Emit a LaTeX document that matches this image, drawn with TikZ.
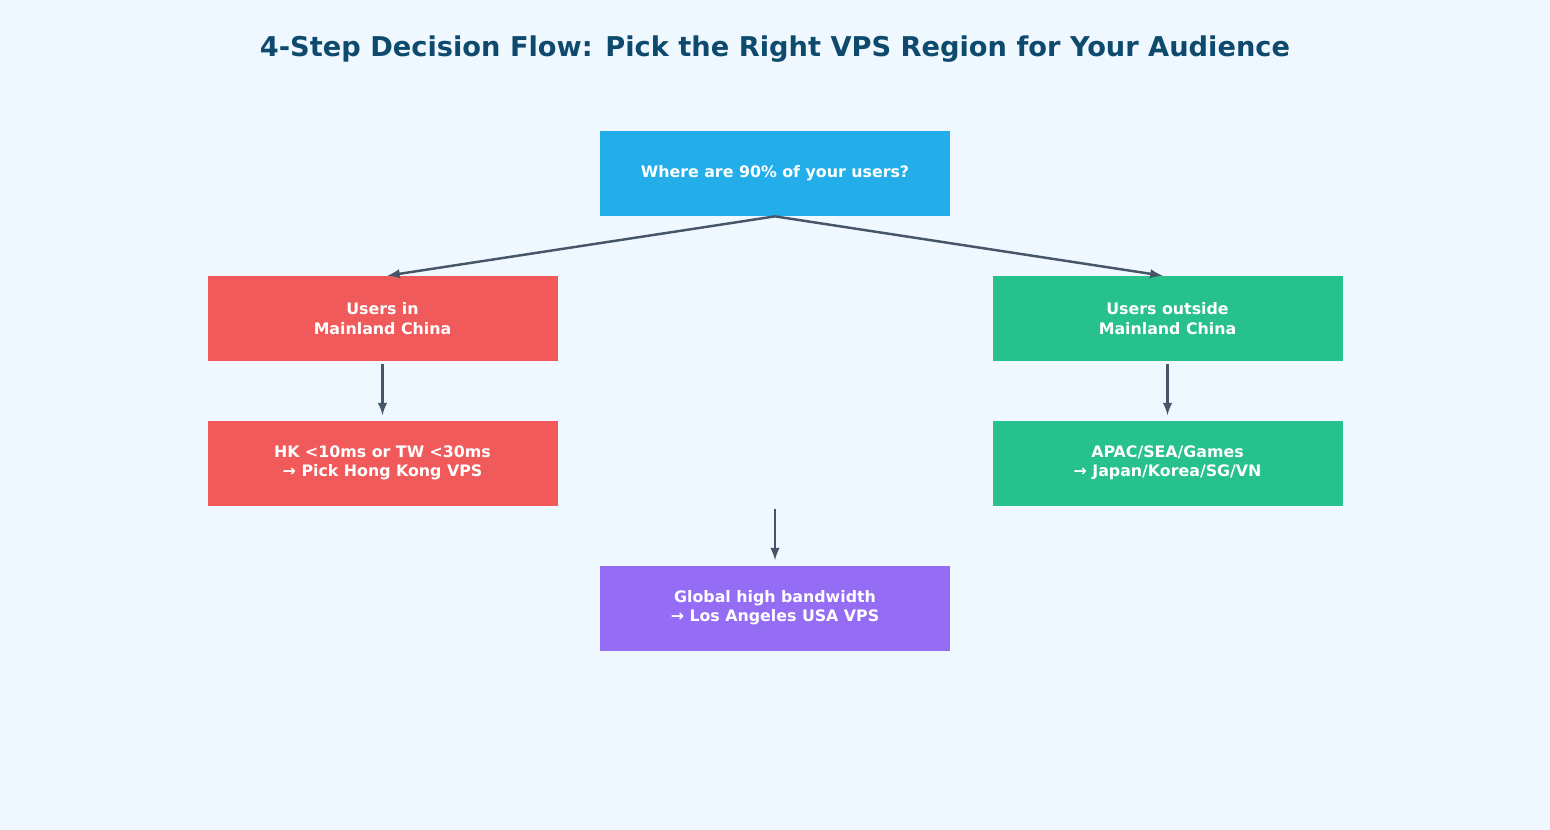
\documentclass[tikz,border=0pt]{standalone}
\usepackage{fontspec}
\setmainfont{DejaVu Sans}
\usetikzlibrary{positioning}
\definecolor{canvas}{HTML}{EFF8FE}
\definecolor{titleblue}{HTML}{0E4A6E}
\definecolor{question}{HTML}{23AEEA}
\definecolor{china}{HTML}{F05A5A}
\definecolor{abroad}{HTML}{27C18D}
\definecolor{global}{HTML}{956CF4}
\definecolor{link}{HTML}{475569}
\tikzset{
  stepbox/.style={minimum width=7cm, minimum height=1.7cm, text=white,
    font=\bfseries\fontsize{9}{11}\selectfont, align=center, inner sep=0pt},
  flow/.style={draw=link, line width=1.4pt, -latex}
}
\begin{document}
\begin{tikzpicture}
  \fill[canvas] (0,0) rectangle (31,-16.6);
  \useasboundingbox (0,0) rectangle (31,-16.6);
  \node[text=titleblue, font=\bfseries\fontsize{15.5}{18}\selectfont] (title) at (15.5,-0.98)
    {4-Step Decision Flow: Pick the Right VPS Region for Your Audience};

  \node[stepbox, fill=question] (where) at (15.5,-3.47) {Where are 90\% of your users?};
  \node[stepbox, fill=china] (inchina) at (7.65,-6.37) {Users in\\Mainland China};
  \node[stepbox, fill=abroad] (outside) at (23.35,-6.37) {Users outside\\Mainland China};
  \node[stepbox, fill=china] (hongkong) at (7.65,-9.26) {HK <10ms or TW <30ms\\→ Pick Hong Kong VPS};
  \node[stepbox, fill=abroad] (asia) at (23.35,-9.26) {APAC/SEA/Games\\→ Japan/Korea/SG/VN};
  \node[stepbox, fill=global] (losangeles) at (15.5,-12.16) {Global high bandwidth\\→ Los Angeles USA VPS};

  \coordinate (free) at (15.5,-10.18);
  \draw[flow] (where.south) -- ([xshift=0.1cm]inchina.north);
  \draw[flow] (where.south) -- ([xshift=-0.1cm]outside.north);
  \draw[flow] ([yshift=-0.05cm]inchina.south) -- ([yshift=0.1cm]hongkong.north);
  \draw[flow] ([yshift=-0.05cm]outside.south) -- ([yshift=0.1cm]asia.north);
  \draw[flow] (free) -- ([yshift=0.1cm]losangeles.north);
\end{tikzpicture}
\end{document}
